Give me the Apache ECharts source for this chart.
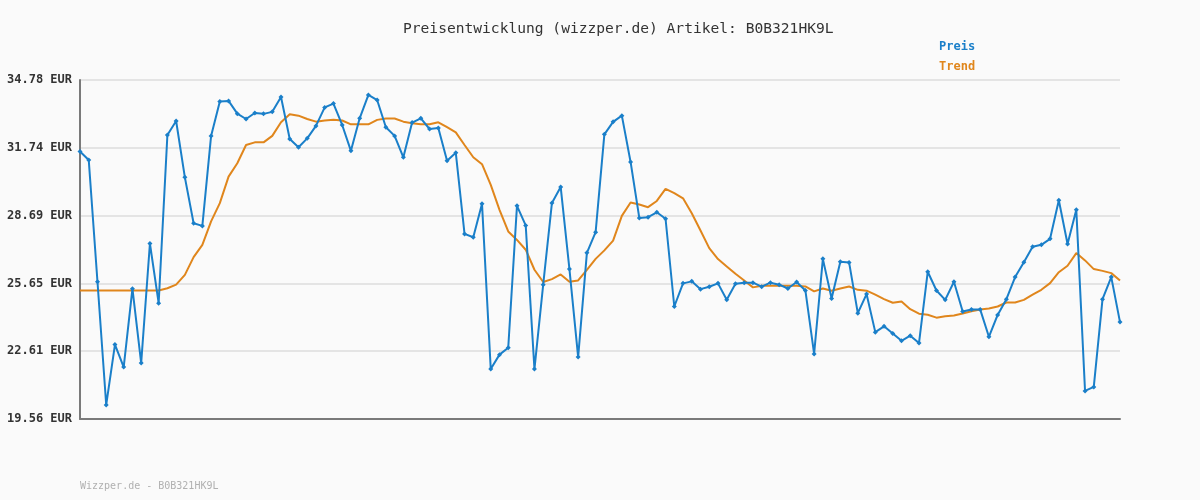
<!DOCTYPE html>
<html>
<head>
<meta charset="utf-8">
<title>Preisentwicklung</title>
<script src="https://cdn.jsdelivr.net/npm/echarts@6/dist/echarts.min.js"></script>
<style>
  html, body { margin: 0; padding: 0; background: #fafafa; }
  #chart { width: 1200px; height: 500px; }
</style>
</head>
<body>
<div id="chart"></div>
<script>
// Preis (Tageswerte)
const preis = [
  31.57, 31.19, 25.72, 20.19, 22.90, 21.89, 25.41, 22.07, 27.44, 24.76,
  32.31, 32.94, 30.41, 28.35, 28.23, 32.27, 33.81, 33.84, 33.27, 33.03,
  33.30, 33.26, 33.35, 34.02, 32.13, 31.76, 32.16, 32.72, 33.55, 33.72,
  32.76, 31.60, 33.06, 34.11, 33.88, 32.66, 32.27, 31.31, 32.87, 33.06,
  32.58, 32.63, 31.15, 31.51, 27.87, 27.72, 29.22, 21.80, 22.45, 22.76,
  29.13, 28.25, 21.80, 25.59, 29.26, 29.98, 26.30, 22.34, 27.02, 27.95,
  32.34, 32.90, 33.18, 31.10, 28.58, 28.62, 28.84, 28.55, 24.61, 25.65,
  25.74, 25.39, 25.50, 25.65, 24.91, 25.63, 25.68, 25.68, 25.50, 25.68,
  25.59, 25.42, 25.71, 25.33, 22.48, 26.75, 24.97, 26.62, 26.59, 24.31,
  25.17, 23.46, 23.72, 23.40, 23.07, 23.30, 22.97, 26.17, 25.33, 24.91,
  25.72, 24.39, 24.48, 24.48, 23.25, 24.23, 24.94, 25.93, 26.60, 27.29,
  27.38, 27.65, 29.38, 27.42, 28.95, 20.82, 21.00, 24.94, 25.93, 23.91
]

// Trend
const trend = [
  25.33, 25.33, 25.33, 25.33, 25.33, 25.33, 25.33, 25.33, 25.33, 25.33,
  25.43, 25.59, 26.03, 26.83, 27.38, 28.43, 29.25, 30.44, 31.04, 31.86,
  31.98, 31.98, 32.27, 32.88, 33.24, 33.18, 33.03, 32.91, 32.96, 33.00,
  32.96, 32.79, 32.79, 32.79, 32.99, 33.05, 33.05, 32.91, 32.84, 32.79,
  32.79, 32.88, 32.66, 32.43, 31.86, 31.31, 31.00, 30.07, 28.95, 27.98,
  27.60, 27.16, 26.26, 25.71, 25.84, 26.05, 25.72, 25.78, 26.26, 26.75,
  27.13, 27.57, 28.68, 29.28, 29.19, 29.07, 29.35, 29.89, 29.70, 29.47,
  28.80, 28.02, 27.23, 26.74, 26.41, 26.08, 25.78, 25.47, 25.54, 25.54,
  25.54, 25.54, 25.54, 25.51, 25.29, 25.42, 25.32, 25.42, 25.51, 25.36,
  25.32, 25.14, 24.94, 24.78, 24.84, 24.49, 24.29, 24.24, 24.11, 24.17,
  24.21, 24.30, 24.40, 24.48, 24.52, 24.61, 24.79, 24.79, 24.91, 25.14,
  25.36, 25.66, 26.15, 26.44, 27.01, 26.68, 26.29, 26.21, 26.11, 25.78
]

// y-Achse
const yTickLabels = ['19.56', '22.61', '25.65', '28.69', '31.74', '34.78']
const yMin = 19.56
const yMax = 34.78
const yStep = (yMax - yMin) / 5

const tage = preis.map((v, i) => String(i + 1))

const chart = echarts.init(document.getElementById('chart'), null, { renderer: 'canvas' })

const option = {
  backgroundColor: '#fafafa',
  animation: false,
  title: {
    text: 'Preisentwicklung (wizzper.de) Artikel: B0B321HK9L',
    left: 398,
    top: 17,
    textStyle: {
      fontFamily: 'DejaVu Sans Mono',
      fontSize: 14.6,
      fontWeight: 'normal',
      color: '#333333'
    }
  },
  legend: {
    orient: 'vertical',
    left: 929,
    top: 36,
    itemGap: 8,
    itemWidth: 0,
    itemHeight: 0,
    textStyle: {
      fontFamily: 'DejaVu Sans Mono',
      fontSize: 12,
      fontWeight: 'bold'
    },
    data: [
      { name: 'Preis', icon: 'none', textStyle: { color: '#1a7fc9' } },
      { name: 'Trend', icon: 'none', textStyle: { color: '#e0861c' } }
    ]
  },
  graphic: [
    {
      type: 'text',
      left: 80,
      top: 481,
      style: {
        text: 'Wizzper.de - B0B321HK9L',
        fontFamily: 'DejaVu Sans Mono',
        fontSize: 10,
        fill: '#b0b0b0'
      }
    }
  ],
  grid: {
    left: 80,
    right: 80,
    top: 80,
    bottom: 81
  },
  xAxis: {
    type: 'category',
    boundaryGap: false,
    data: tage,
    axisLine: { lineStyle: { color: '#7a7a7a', width: 2 } },
    axisTick: { show: false },
    axisLabel: { show: false },
    splitLine: { show: false }
  },
  yAxis: {
    type: 'value',
    min: yMin,
    max: yMax,
    interval: yStep,
    axisLine: { show: true, lineStyle: { color: '#7a7a7a', width: 2 } },
    axisTick: { show: false },
    axisLabel: {
      margin: 8,
      fontFamily: 'DejaVu Sans Mono',
      fontSize: 12,
      fontWeight: 'bold',
      color: '#333333',
      formatter: (v) => yTickLabels[Math.round((v - yMin) / yStep)] + ' EUR'
    },
    splitLine: { lineStyle: { color: '#e4e4e4', width: 2 } }
  },
  series: [
    {
      name: 'Preis',
      type: 'line',
      data: preis,
      symbol: 'diamond',
      symbolSize: 5,
      showAllSymbol: true,
      itemStyle: { color: '#1a7fc9' },
      lineStyle: { color: '#1a7fc9', width: 2 },
      z: 3
    },
    {
      name: 'Trend',
      type: 'line',
      data: trend,
      symbol: 'none',
      itemStyle: { color: '#e0861c' },
      lineStyle: { color: '#e0861c', width: 2 },
      z: 2
    }
  ]
}

chart.setOption(option)
</script>
</body>
</html>
